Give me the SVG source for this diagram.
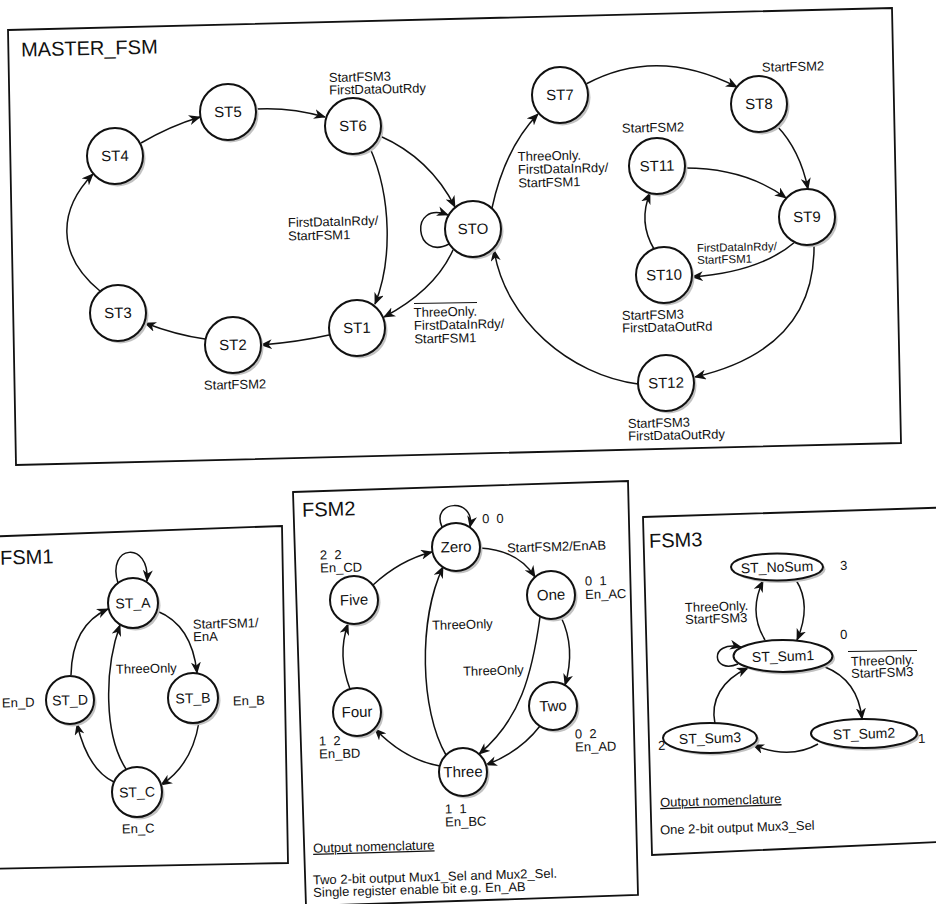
<svg xmlns="http://www.w3.org/2000/svg" width="936" height="904" viewBox="0 0 936 904">
<defs>
<marker id="ah" viewBox="0 0 12 10" refX="11" refY="5" markerWidth="12" markerHeight="10" markerUnits="userSpaceOnUse" orient="auto"><path d="M0,0 L12,5 L0,10 L3.5,5 z" fill="#111"/></marker>
<style>
.box{fill:none;stroke:#111;stroke-width:1.8}
.e{fill:none;stroke:#111;stroke-width:1.5;marker-end:url(#ah)}
.n{fill:#fff;stroke:#111;stroke-width:2}
.sh{fill:#c2c2c2}
.ol{stroke:#111;stroke-width:1}
text{font-family:"Liberation Sans",Arial,sans-serif;fill:#111}
.t{font-size:20px}
.l{font-size:13px}
.s{font-size:11.5px}
.c{font-size:15px;text-anchor:middle}
.c14{font-size:14px;text-anchor:middle}
.u{text-decoration:underline}
.rm text{transform-box:fill-box;transform-origin:center;transform:rotate(-1.3deg)}
.r1 text{transform-box:fill-box;transform-origin:center;transform:rotate(-1.4deg)}
.r2 text{transform-box:fill-box;transform-origin:center;transform:rotate(-1.6deg)}
.r3 text{transform-box:fill-box;transform-origin:center;transform:rotate(-1.8deg)}
</style>
</defs>
<rect width="936" height="904" fill="#fff"/>

<!-- MASTER_FSM -->
<g id="master" class="rm">
<polygon class="box" points="8,30 892,8 901,443 16,465"/>
<text class="t" x="21" y="55">MASTER_FSM</text>
<g id="master-connectors">
<path class="e" d="M141,143 Q170,126 200,117"/>
<path class="e" d="M256,109 Q290,107 325,117"/>
<path class="e" d="M380,136 Q430,158 455,207"/>
<path class="e" d="M370,148 C392,198 392,262 375,304"/>
<path class="e" d="M453,250 Q435,290 384,317"/>
<path class="e" d="M449,244 C415,262 408,200 448,215"/>
<path class="e" d="M329,335 Q298,342 261,345"/>
<path class="e" d="M205,339 Q176,335 145,323"/>
<path class="e" d="M100,291 C56,255 58,210 93,174"/>
<path class="e" d="M492,208 Q505,148 538,114"/>
<path class="e" d="M586,84 Q657,46 737,87"/>
<path class="e" d="M777,126 Q800,150 808,189"/>
<path class="e" d="M685,168 Q745,168 786,198"/>
<path class="e" d="M795,242 Q760,272 692,277"/>
<path class="e" d="M654,249 Q638,222 650,193"/>
<path class="e" d="M814,244 C815,300 790,355 695,377"/>
<path class="e" d="M638,384 C570,375 505,320 494,250"/>
</g>
<g id="ST4"><circle class="sh" cx="117.5" cy="158.5" r="28"/><circle class="n" cx="115" cy="156" r="28"/><text class="c" x="115" y="161">ST4</text></g>
<g id="ST5"><circle class="sh" cx="230.5" cy="114.5" r="28"/><circle class="n" cx="228" cy="112" r="28"/><text class="c" x="228" y="117">ST5</text></g>
<g id="ST6"><circle class="sh" cx="355.5" cy="128.5" r="28"/><circle class="n" cx="353" cy="126" r="28"/><text class="c" x="353" y="131">ST6</text></g>
<g id="STO"><circle class="sh" cx="475.5" cy="231.5" r="28"/><circle class="n" cx="473" cy="229" r="28"/><text class="c" x="473" y="234">STO</text></g>
<g id="ST1"><circle class="sh" cx="359.5" cy="330.5" r="28"/><circle class="n" cx="357" cy="328" r="28"/><text class="c" x="357" y="333">ST1</text></g>
<g id="ST2"><circle class="sh" cx="235.5" cy="347.5" r="28"/><circle class="n" cx="233" cy="345" r="28"/><text class="c" x="233" y="350">ST2</text></g>
<g id="ST3"><circle class="sh" cx="120.5" cy="315.5" r="28"/><circle class="n" cx="118" cy="313" r="28"/><text class="c" x="118" y="318">ST3</text></g>
<g id="ST7"><circle class="sh" cx="562.5" cy="97.5" r="28"/><circle class="n" cx="560" cy="95" r="28"/><text class="c" x="560" y="100">ST7</text></g>
<g id="ST8"><circle class="sh" cx="761.5" cy="106.5" r="28"/><circle class="n" cx="759" cy="104" r="28"/><text class="c" x="759" y="109">ST8</text></g>
<g id="ST11"><circle class="sh" cx="659.5" cy="168.5" r="28"/><circle class="n" cx="657" cy="166" r="28"/><text class="c" x="657" y="171">ST11</text></g>
<g id="ST9"><circle class="sh" cx="809.5" cy="219.5" r="28"/><circle class="n" cx="807" cy="217" r="28"/><text class="c" x="807" y="222">ST9</text></g>
<g id="ST10"><circle class="sh" cx="666.5" cy="277.5" r="28"/><circle class="n" cx="664" cy="275" r="28"/><text class="c" x="664" y="280">ST10</text></g>
<g id="ST12"><circle class="sh" cx="668.5" cy="385.5" r="28"/><circle class="n" cx="666" cy="383" r="28"/><text class="c" x="666" y="388">ST12</text></g>
<g id="master-labels">
<text class="l" x="329" y="81">StartFSM3<tspan x="329" dy="12.5">FirstDataOutRdy</tspan></text>
<text class="l" x="288" y="226">FirstDataInRdy/<tspan x="288" dy="13.5">StartFSM1</tspan></text>
<line class="ol" x1="414" y1="303.5" x2="477" y2="302.5"/>
<text class="l" x="414" y="316">ThreeOnly.<tspan x="414" dy="13">FirstDataInRdy/</tspan><tspan x="414" dy="13.5">StartFSM1</tspan></text>
<text class="l" x="204" y="389">StartFSM2</text>
<text class="l" x="518" y="160">ThreeOnly.<tspan x="518" dy="13">FirstDataInRdy/</tspan><tspan x="518" dy="13.5">StartFSM1</tspan></text>
<text class="l" x="762" y="71">StartFSM2</text>
<text class="l" x="622" y="132">StartFSM2</text>
<text class="s" x="697" y="251">FirstDataInRdy/<tspan x="697" dy="12">StartFSM1</tspan></text>
<text class="l" x="622" y="319">StartFSM3<tspan x="622" dy="12.5">FirstDataOutRd</tspan></text>
<text class="l" x="628" y="427">StartFSM3<tspan x="628" dy="12.5">FirstDataOutRdy</tspan></text>
</g>
</g>

<!-- FSM1 -->
<g id="fsm1" class="r1">
<polygon class="box" points="-20,537 282,526 288,863 -20,869"/>
<text class="t" x="0" y="564">FSM1</text>
<g id="fsm1-connectors">
<path class="e" d="M118,583 C106,545 150,540 147,581"/>
<path class="e" d="M157,611 Q192,625 197,673"/>
<path class="e" d="M199,722 Q192,765 161,785"/>
<path class="e" d="M114,782 Q88,770 77,724"/>
<path class="e" d="M71,675 Q72,625 108,609"/>
<path class="e" d="M126,769 C104,735 104,670 120,625"/>
</g>
<g id="ST_A"><circle class="sh" cx="135.5" cy="605.5" r="25"/><circle class="n" cx="133" cy="603" r="25"/><text class="c14" x="133" y="608">ST_A</text></g>
<g id="ST_B"><circle class="sh" cx="195.5" cy="700.5" r="25"/><circle class="n" cx="193" cy="698" r="25"/><text class="c14" x="193" y="703">ST_B</text></g>
<g id="ST_D"><circle class="sh" cx="72.5" cy="702.5" r="24"/><circle class="n" cx="70" cy="700" r="24"/><text class="c14" x="70" y="705">ST_D</text></g>
<g id="ST_C"><circle class="sh" cx="139.5" cy="794.5" r="25"/><circle class="n" cx="137" cy="792" r="25"/><text class="c14" x="137" y="797">ST_C</text></g>
<g id="fsm1-labels">
<text class="l" x="193" y="628">StartFSM1/<tspan x="193" dy="12.5">EnA</tspan></text>
<text class="l" x="116" y="673">ThreeOnly</text>
<text class="l" x="233" y="705">En_B</text>
<text class="l" x="2" y="707">En_D</text>
<text class="l" x="122" y="833">En_C</text>
</g>
</g>

<!-- FSM2 -->
<g id="fsm2" class="r2">
<polygon class="box" points="293,492 628,481 638,895 306,906"/>
<text class="t" x="302" y="516">FSM2</text>
<g id="fsm2-connectors">
<path class="e" d="M442,527 C430,500 476,497 470,527"/>
<path class="e" d="M480,548 Q518,550 535,577"/>
<path class="e" d="M561,617 Q576,648 565,685"/>
<path class="e" d="M540,726 Q520,752 486,765"/>
<path class="e" d="M540,617 C532,675 520,720 479,754"/>
<path class="e" d="M446,755 C420,710 418,620 443,567"/>
<path class="e" d="M440,766 Q405,760 375,729"/>
<path class="e" d="M350,689 Q337,655 348,624"/>
<path class="e" d="M373,585 Q400,560 432,552"/>
</g>
<g id="Zero"><circle class="sh" cx="458.5" cy="549.5" r="24"/><circle class="n" cx="456" cy="547" r="24"/><text class="c" x="456" y="552">Zero</text></g>
<g id="One"><circle class="sh" cx="553.5" cy="597.5" r="24"/><circle class="n" cx="551" cy="595" r="24"/><text class="c" x="551" y="600">One</text></g>
<g id="Two"><circle class="sh" cx="555.5" cy="708.5" r="24"/><circle class="n" cx="553" cy="706" r="24"/><text class="c" x="553" y="711">Two</text></g>
<g id="Three"><circle class="sh" cx="465.5" cy="774.5" r="24"/><circle class="n" cx="463" cy="772" r="24"/><text class="c" x="463" y="777">Three</text></g>
<g id="Four"><circle class="sh" cx="359.5" cy="714.5" r="24"/><circle class="n" cx="357" cy="712" r="24"/><text class="c" x="357" y="717">Four</text></g>
<g id="Five"><circle class="sh" cx="356.5" cy="602.5" r="24"/><circle class="n" cx="354" cy="600" r="24"/><text class="c" x="354" y="605">Five</text></g>
<g id="fsm2-labels">
<text class="l" x="482" y="523" xml:space="preserve">0  0</text>
<text class="l" x="507" y="551">StartFSM2/EnAB</text>
<text class="l" x="585" y="585" xml:space="preserve">0  1<tspan x="585" dy="13.5">En_AC</tspan></text>
<text class="l" x="320" y="559" xml:space="preserve">2  2<tspan x="320" dy="13">En_CD</tspan></text>
<text class="l" x="432" y="629">ThreeOnly</text>
<text class="l" x="463" y="675">ThreeOnly</text>
<text class="l" x="575" y="738" xml:space="preserve">0  2<tspan x="575" dy="13">En_AD</tspan></text>
<text class="l" x="319" y="745" xml:space="preserve">1  2<tspan x="319" dy="13">En_BD</tspan></text>
<text class="l" x="445" y="813" xml:space="preserve">1  1<tspan x="445" dy="13">En_BC</tspan></text>
<text class="l u" x="313" y="851">Output nomenclature</text>
<text class="l" x="313" y="881">Two 2-bit output Mux1_Sel and Mux2_Sel.<tspan x="313" dy="12.5">Single register enable bit e.g. En_AB</tspan></text>
</g>
</g>

<!-- FSM3 -->
<g id="fsm3" class="r3">
<polygon class="box" points="643,517 960,507 960,841 652,855"/>
<text class="t" x="649" y="547">FSM3</text>
<g id="fsm3-connectors">
<path class="e" d="M765,640 Q748,612 763,581"/>
<path class="e" d="M796,580 Q812,605 797,640"/>
<path class="e" d="M738,664 C712,675 708,640 741,647"/>
<path class="e" d="M825,667 Q858,680 862,719"/>
<path class="e" d="M818,744 Q790,760 753,745"/>
<path class="e" d="M715,724 C710,700 722,680 748,668"/>
</g>
<g id="ST_NoSum"><ellipse class="sh" cx="779.5" cy="569.5" rx="46" ry="13.5"/><ellipse class="n" cx="777" cy="567" rx="46" ry="13.5"/><text class="c14" x="777" y="572">ST_NoSum</text></g>
<g id="ST_Sum1"><ellipse class="sh" cx="785.5" cy="658.5" rx="49.5" ry="16"/><ellipse class="n" cx="783" cy="656" rx="49.5" ry="16"/><text class="c14" x="783" y="661">ST_Sum1</text></g>
<g id="ST_Sum3"><ellipse class="sh" cx="712.5" cy="740.5" rx="47" ry="15"/><ellipse class="n" cx="710" cy="738" rx="47" ry="15"/><text class="c14" x="710" y="743">ST_Sum3</text></g>
<g id="ST_Sum2"><ellipse class="sh" cx="866.5" cy="736" rx="53" ry="14.5"/><ellipse class="n" cx="864" cy="733.5" rx="53" ry="14.5"/><text class="c14" x="864" y="738.5">ST_Sum2</text></g>
<g id="fsm3-labels">
<text class="l" x="840" y="570">3</text>
<text class="l" x="840" y="639">0</text>
<text class="l" x="918" y="743">1</text>
<text class="l" x="658" y="750">2</text>
<text class="l" x="685" y="611">ThreeOnly.<tspan x="685" dy="12">StartFSM3</tspan></text>
<line class="ol" x1="848" y1="651.5" x2="917" y2="650.5"/>
<text class="l" x="851" y="665">ThreeOnly.<tspan x="851" dy="12">StartFSM3</tspan></text>
<text class="l u" x="660" y="805">Output nomenclature</text>
<text class="l" x="660" y="832">One 2-bit output Mux3_Sel</text>
</g>
</g>
</svg>
